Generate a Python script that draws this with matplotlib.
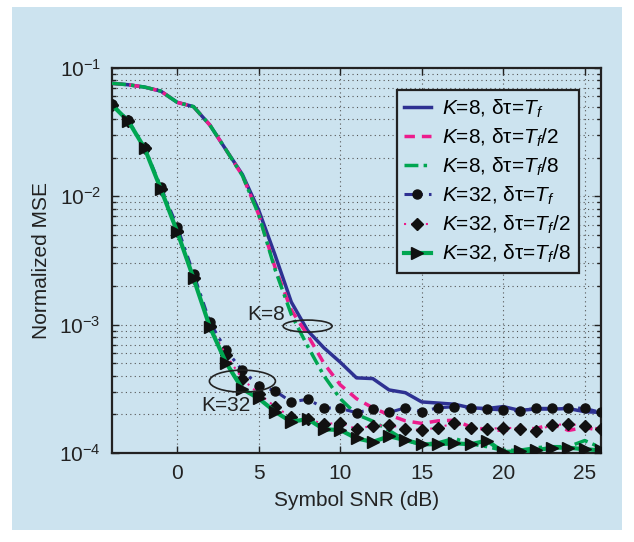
import matplotlib
matplotlib.use("Agg")
import matplotlib.pyplot as plt
from matplotlib.patches import Ellipse, Rectangle
import numpy as np

plt.rcParams['font.family'] = ['Liberation Sans', 'DejaVu Sans']
plt.rcParams['mathtext.fontset'] = 'custom'
plt.rcParams['mathtext.rm'] = 'Liberation Sans'
plt.rcParams['mathtext.it'] = 'Liberation Sans:italic'
plt.rcParams['mathtext.bf'] = 'Liberation Sans:bold'

snr = list(range(-4, 27))

k8_tf = [0.076, 0.074, 0.071, 0.066, 0.054, 0.050, 0.036, 0.023, 0.0148, 0.0078, 0.0035,
         0.0015, 9.0e-4, 6.6e-4, 5.1e-4, 3.85e-4, 3.8e-4, 3.1e-4, 2.95e-4, 2.5e-4, 2.45e-4,
         2.4e-4, 2.25e-4, 2.22e-4, 2.3e-4, 2.15e-4, 2.2e-4, 2.2e-4, 2.22e-4, 2.1e-4, 2.07e-4]
k8_tf2 = [0.076, 0.074, 0.071, 0.066, 0.054, 0.050, 0.036, 0.023, 0.0145, 0.0072, 0.0028,
          0.0013, 8.3e-4, 5.0e-4, 3.4e-4, 2.65e-4, 2.25e-4, 1.98e-4, 1.78e-4, 1.7e-4, 1.78e-4,
          1.8e-4, 1.6e-4, 1.52e-4, 1.5e-4, 1.55e-4, 1.55e-4, 1.68e-4, 1.5e-4, 1.58e-4, 1.5e-4]
k8_tf8 = [0.076, 0.074, 0.071, 0.066, 0.054, 0.050, 0.036, 0.023, 0.0145, 0.0072, 0.0027,
          0.0012, 6.8e-4, 4.0e-4, 2.65e-4, 2.0e-4, 1.77e-4, 1.5e-4, 1.25e-4, 1.17e-4, 1.2e-4,
          1.3e-4, 1.18e-4, 1.12e-4, 1.05e-4, 1.05e-4, 1.1e-4, 1.12e-4, 1.12e-4, 1.25e-4, 1.1e-4]
k32_tf = [0.052, 0.039, 0.024, 0.0118, 0.0058, 0.0025, 0.00105, 6.3e-4, 4.4e-4, 3.35e-4, 3.05e-4,
          2.5e-4, 2.62e-4, 2.25e-4, 2.23e-4, 2.06e-4, 2.2e-4, 2.07e-4, 2.25e-4, 2.1e-4, 2.25e-4,
          2.29e-4, 2.23e-4, 2.2e-4, 2.16e-4, 2.13e-4, 2.23e-4, 2.23e-4, 2.25e-4, 2.23e-4, 2.07e-4]
k32_tf2 = [0.0515, 0.0386, 0.0237, 0.0114, 0.0054, 0.0023, 9.7e-4, 5.8e-4, 3.77e-4, 2.9e-4, 2.3e-4,
           1.9e-4, 1.85e-4, 1.68e-4, 1.72e-4, 1.54e-4, 1.63e-4, 1.65e-4, 1.55e-4, 1.51e-4, 1.58e-4,
           1.7e-4, 1.58e-4, 1.53e-4, 1.58e-4, 1.55e-4, 1.49e-4, 1.65e-4, 1.68e-4, 1.63e-4, 1.54e-4]
k32_tf8 = [0.0515, 0.0386, 0.0237, 0.01135, 0.0053, 0.0023, 9.6e-4, 5.05e-4, 3.15e-4, 2.66e-4, 2.1e-4,
           1.75e-4, 1.84e-4, 1.53e-4, 1.51e-4, 1.3e-4, 1.22e-4, 1.35e-4, 1.26e-4, 1.17e-4, 1.17e-4,
           1.19e-4, 1.17e-4, 1.25e-4, 1.02e-4, 1.03e-4, 1.05e-4, 1.1e-4, 1.1e-4, 1.07e-4, 1.05e-4]

labels = [r"$K$=8, δτ=$T_f$", r"$K$=8, δτ=$T_f$/2", r"$K$=8, δτ=$T_f$/8",
          r"$K$=32, δτ=$T_f$", r"$K$=32, δτ=$T_f$/2", r"$K$=32, δτ=$T_f$/8"]
x_ticks = [0, 5, 10, 15, 20, 25]

bg = '#cce3ef'
navy = '#2e3192'
magenta = '#ec1c8c'
green = '#00a651'

fig = plt.figure(figsize=(6.34, 5.42), dpi=100)
fig.patch.set_facecolor('white')
fig.patches.append(Rectangle((12/634, 1-530/542), 610/634, 523/542, transform=fig.transFigure,
                             facecolor=bg, edgecolor='none', zorder=-10))
ax = fig.add_axes([112/634, 1-453/542, 489/634, 385/542])
ax.set_facecolor(bg)

ax.plot(snr, k8_tf, color=navy, lw=2.5, ls='-', label=labels[0], zorder=3)
ax.plot(snr, k8_tf2, color=magenta, lw=2.5, ls=(0, (3, 2)), label=labels[1], zorder=3)
ax.plot(snr, k8_tf8, color=green, lw=2.5, ls=(0, (4, 1.5, 1, 1.5)), label=labels[2], zorder=3)
ax.plot(snr, k32_tf, color=navy, lw=2.2, ls=(0, (3, 2, 1, 2)), marker='o', ms=6.5,
        mfc='#111111', mec='#111111', label=labels[3], zorder=4)
ax.plot(snr, k32_tf2, color=magenta, lw=1.5, ls=(0, (1, 2.5)), marker='D', ms=6,
        mfc='#111111', mec='#111111', label=labels[4], zorder=4)
ax.plot(snr, k32_tf8, color=green, lw=3, ls='-', marker='>', ms=8,
        mfc='#111111', mec='#111111', label=labels[5], zorder=4)

ax.set_yscale('log')
ax.set_xlim(-4, 26)
ax.set_ylim(1e-4, 1e-1)
ax.set_xticks(x_ticks)

ax.grid(True, which='major', color='#555555', ls=(0, (1, 3)), lw=0.8)
ax.grid(True, which='minor', axis='y', color='#555555', ls=(0, (1, 3)), lw=0.8)
ax.tick_params(which='both', direction='in', top=True, right=True, labelsize=15,
               colors='#222222', width=1)
ax.tick_params(which='major', length=5)
ax.tick_params(which='minor', length=3)
ax.tick_params(axis='y', pad=8)
ax.tick_params(axis='x', pad=8)
for s in ax.spines.values():
    s.set_linewidth(1.6)
    s.set_color('#222222')

ax.set_xlabel('Symbol SNR (dB)', fontsize=15, color='#222222', labelpad=6)
ax.set_ylabel('Normalized MSE', fontsize=15, color='#222222', labelpad=6)

leg = ax.legend(loc='upper left', bbox_to_anchor=(0.582, 0.943), fontsize=15,
                frameon=True, fancybox=False, handlelength=1.3, handletextpad=0.55,
                labelspacing=0.33, borderpad=0.35, borderaxespad=0)
leg.get_frame().set_edgecolor('#222222')
leg.get_frame().set_linewidth(1.6)
leg.get_frame().set_facecolor(bg)
leg.get_frame().set_alpha(1)

# annotations
fig.canvas.draw()
def to_axes(x, y):
    return ax.transAxes.inverted().transform(ax.transData.transform((x, y)))
c8 = to_axes(8, 9.75e-4)
c32 = to_axes(4, 3.63e-4)
ax.add_patch(Ellipse(c8, 49/489, 12/385, transform=ax.transAxes, fill=False,
                     edgecolor='#222222', lw=1.2, zorder=6))
ax.add_patch(Ellipse(c32, 66/489, 22/385, transform=ax.transAxes, fill=False,
                     edgecolor='#222222', lw=1.2, zorder=6))
ax.text(5.45, 1.19e-3, 'K=8', fontsize=15, ha='center', va='center', color='#222222', zorder=7)
ax.text(3.0, 2.36e-4, 'K=32', fontsize=15, ha='center', va='center', color='#222222', zorder=7)

fig.savefig('out.png', dpi=100, facecolor=fig.get_facecolor())
